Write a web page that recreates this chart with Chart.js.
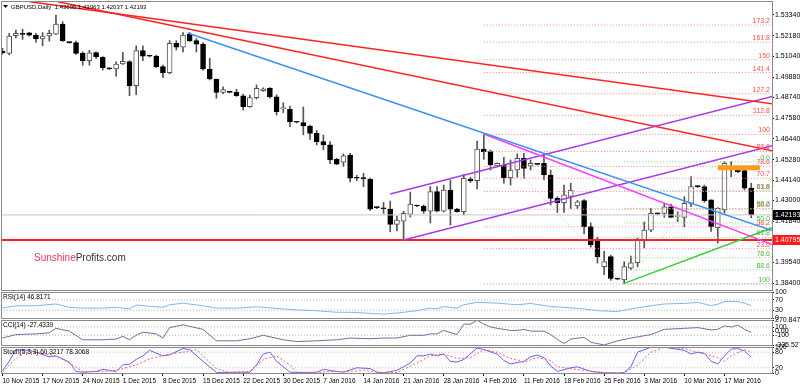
<!DOCTYPE html>
<html>
<head>
<meta charset="utf-8">
<title>GBPUSD Daily</title>
<script src="https://cdn.jsdelivr.net/npm/chart.js@4.4.1/dist/chart.umd.min.js"></script>
<style>
body { margin: 0; background: #fff; }
#wrap { position: relative; width: 800px; height: 387px; overflow: hidden; background: #fff; }
#wrap canvas { position: absolute; left: 0; }
</style>
</head>
<body>
<div id="wrap">
  <canvas id="main" width="800" height="292" style="top:0px"></canvas>
  <canvas id="rsi" width="800" height="33" style="top:289px"></canvas>
  <canvas id="cci" width="800" height="32" style="top:317px"></canvas>
  <canvas id="stoch" width="800" height="43" style="top:344px"></canvas>
</div>
<script>
// date labels (every 6th bar, the feed has sunday bars)
const tickBars = [0, 6, 12, 18, 24, 30, 36, 42, 48, 54, 60, 66, 72, 78, 84, 90, 96, 102, 108];
const tickDates = ["10 Nov 2015", "17 Nov 2015", "24 Nov 2015", "1 Dec 2015", "8 Dec 2015", "15 Dec 2015",
  "22 Dec 2015", "30 Dec 2015", "7 Jan 2016", "14 Jan 2016", "21 Jan 2016", "28 Jan 2016", "4 Feb 2016",
  "11 Feb 2016", "18 Feb 2016", "25 Feb 2016", "3 Mar 2016", "10 Mar 2016", "17 Mar 2016"];

// daily candles, one value per bar
const opens = [1.5132, 1.5120, 1.5219, 1.5228, 1.5234, 1.5221, 1.5200, 1.5217, 1.5227, 1.5284,
  1.5182, 1.5180, 1.5120, 1.5079, 1.5124, 1.5098, 1.5036, 1.5033, 1.5061, 1.5074,
  1.4940, 1.5135, 1.5106, 1.5105, 1.5046, 1.5013, 1.5176, 1.5154, 1.5228, 1.5191,
  1.5171, 1.5033, 1.4977, 1.4903, 1.4905, 1.4903, 1.4884, 1.4823, 1.4873, 1.4912,
  1.4925, 1.4878, 1.4812, 1.4808, 1.4738, 1.4734, 1.4715, 1.4674, 1.4628, 1.4610,
  1.4530, 1.4513, 1.4553, 1.4426, 1.4424, 1.4418, 1.4262, 1.4256, 1.4252, 1.4167,
  1.4185, 1.4223, 1.4270, 1.4269, 1.4241, 1.4349, 1.4241, 1.4358, 1.4252, 1.4237,
  1.4420, 1.4410, 1.4586, 1.4572, 1.4493, 1.4498, 1.4427, 1.4470, 1.4535, 1.4491,
  1.4502, 1.4507, 1.4442, 1.4312, 1.4288, 1.4322, 1.4269, 1.4299, 1.4154, 1.4080,
  1.3931, 1.3987, 1.3862, 1.3857, 1.3922, 1.3953, 1.4080, 1.4135, 1.4226, 1.4228,
  1.4265, 1.4210, 1.4206, 1.4284, 1.4377, 1.4377, 1.4303, 1.4149, 1.4247, 1.4470,
  1.4470, 1.4466, 1.43695];
const highs = [1.5148, 1.5232, 1.5250, 1.5255, 1.5238, 1.5232, 1.5236, 1.5250, 1.5334, 1.5297,
  1.5186, 1.5189, 1.5128, 1.5137, 1.5128, 1.5102, 1.5040, 1.5073, 1.5126, 1.5079,
  1.5162, 1.5162, 1.5110, 1.5110, 1.5055, 1.5191, 1.5191, 1.5236, 1.5236, 1.5202,
  1.5180, 1.5093, 1.4977, 1.4933, 1.4908, 1.4920, 1.4893, 1.4888, 1.4944, 1.4928,
  1.4930, 1.4889, 1.4845, 1.4826, 1.4740, 1.4821, 1.4720, 1.4690, 1.4665, 1.4628,
  1.4535, 1.4560, 1.4563, 1.4440, 1.4452, 1.4425, 1.4265, 1.4289, 1.4297, 1.4213,
  1.4240, 1.4347, 1.4274, 1.4275, 1.4377, 1.4377, 1.4386, 1.4414, 1.4256, 1.4444,
  1.4430, 1.4631, 1.4668, 1.4581, 1.4510, 1.4540, 1.4526, 1.4560, 1.4563, 1.4526,
  1.4505, 1.4554, 1.4470, 1.4321, 1.4386, 1.4397, 1.4300, 1.4305, 1.4175, 1.4096,
  1.4017, 1.3995, 1.3866, 1.3959, 1.3990, 1.4090, 1.4180, 1.4256, 1.4230, 1.4280,
  1.4280, 1.4237, 1.4321, 1.4433, 1.4382, 1.4386, 1.4303, 1.4260, 1.4516, 1.4516,
  1.4475, 1.4476, 1.43963];
const lows = [1.5115, 1.5112, 1.5206, 1.5198, 1.5216, 1.5183, 1.5162, 1.5189, 1.5225, 1.5186,
  1.5176, 1.5114, 1.5054, 1.5054, 1.5090, 1.5027, 1.5030, 1.4993, 1.5058, 1.4884,
  1.4890, 1.5079, 1.5100, 1.5040, 1.4984, 1.5006, 1.5139, 1.5128, 1.5186, 1.5128,
  1.5027, 1.4972, 1.4870, 1.4896, 1.4900, 1.4880, 1.4805, 1.4819, 1.4865, 1.4908,
  1.4870, 1.4776, 1.4790, 1.4711, 1.4732, 1.4666, 1.4640, 1.4610, 1.4582, 1.4505,
  1.4500, 1.4490, 1.4403, 1.4410, 1.4377, 1.4245, 1.4255, 1.4228, 1.4125, 1.4130,
  1.4080, 1.4208, 1.4265, 1.4228, 1.4175, 1.4236, 1.4236, 1.4163, 1.4235, 1.4220,
  1.4400, 1.4364, 1.4530, 1.4470, 1.4490, 1.4397, 1.4386, 1.4430, 1.4425, 1.4470,
  1.4498, 1.4414, 1.4275, 1.4233, 1.4233, 1.4255, 1.4255, 1.4113, 1.4040, 1.3951,
  1.3887, 1.3855, 1.3858, 1.3835, 1.3915, 1.3930, 1.4035, 1.4126, 1.4220, 1.4206,
  1.4206, 1.4182, 1.4153, 1.4266, 1.4372, 1.4290, 1.4127, 1.4063, 1.4229, 1.4433,
  1.4455, 1.4358, 1.42037];
const closes = [1.5124, 1.5217, 1.5232, 1.5226, 1.5221, 1.5200, 1.5217, 1.5232, 1.5284, 1.5191,
  1.5180, 1.5120, 1.5079, 1.5123, 1.5101, 1.5040, 1.5034, 1.5061, 1.5076, 1.4940,
  1.5135, 1.5105, 1.5104, 1.5046, 1.5013, 1.5176, 1.5154, 1.5222, 1.5189, 1.5171,
  1.5033, 1.4977, 1.4903, 1.4918, 1.4903, 1.4884, 1.4823, 1.4873, 1.4925, 1.4923,
  1.4878, 1.4795, 1.4814, 1.4739, 1.4736, 1.4715, 1.4674, 1.4628, 1.4610, 1.4526,
  1.4503, 1.4549, 1.4424, 1.4424, 1.4422, 1.4252, 1.4260, 1.4254, 1.4167, 1.4191,
  1.4229, 1.4280, 1.4269, 1.4241, 1.4349, 1.4241, 1.4358, 1.4251, 1.4237, 1.4423,
  1.4410, 1.4586, 1.4572, 1.4498, 1.4507, 1.4427, 1.4470, 1.4535, 1.4479, 1.4507,
  1.4501, 1.4442, 1.4312, 1.4288, 1.4331, 1.4358, 1.4293, 1.4154, 1.4052, 1.3987,
  1.3959, 1.3866, 1.3862, 1.3931, 1.3953, 1.4080, 1.4135, 1.4228, 1.4225, 1.4265,
  1.4206, 1.4212, 1.4284, 1.4377, 1.4377, 1.4299, 1.4154, 1.4256, 1.4507, 1.4474,
  1.4461, 1.4368, 1.42193];

// price axis labels
const priceTicks = [1.38400, 1.39540, 1.41840, 1.43000, 1.44140, 1.45280, 1.46440, 1.47580,
  1.48740, 1.49880, 1.51040, 1.52180, 1.53340];
const supportPrice = 1.40795;

// trend lines as [bar, price] pairs
const redLineA = [[4.1, 1.5408], [115.3, 1.4838]];
const redLineB = [[8.3, 1.5408], [115.3, 1.4576]];
const blueLine = [[27.7, 1.5234], [115.3, 1.4130]];
const magentaLine = [[72, 1.4671], [115.3, 1.4052]];
const channelTop = [[58, 1.4336], [115.3, 1.4882]];
const channelBottom = [[60, 1.4080], [115.3, 1.4607]];
const greenLine = [[93, 1.3838], [115.3, 1.4150]];
const orangeZone = [[107, 1.4483], [113.3, 1.4483]];

// fibonacci retracements: [bar, price] of the 100 % and 0 % anchors
const redFib100 = [72, 1.4668];
const redFib0 = [93, 1.3835];
const redFibLevels = [0, 23.6, 38.2, 50, 61.8, 70.7, 78.6, 88.6, 100, 112.8, 127.2, 141.4, 150, 161.8, 173.2];
const redFibLabels = ["", "23.6", "38.2", "50.0", "61.8", "70.7", "78.6", "88.6", "100", "112.8", "127.2", "141.4", "150", "161.8", "173.2"];
const greenFib100 = [93, 1.3835];
const greenFib0 = [108, 1.4515];
const greenFibLevels = [0, 23.6, 38.2, 50, 61.8, 78.6, 88.6, 100];
const greenFibLabels = ["0.0", "23.6", "38.2", "50.0", "61.8", "78.6", "88.6", "100"];

// indicators (bar, value) read at visible turning points
const rsiBars = [0, 2, 5, 8, 10, 12, 15, 17, 19, 20, 22, 24, 25, 27, 30, 32, 35, 38, 42, 44, 47, 50, 52, 55, 57, 59,
  61, 62, 64, 65, 66, 68, 69, 71, 74, 77, 79, 82, 84, 87, 89, 92, 94, 97, 99, 102, 104, 106, 107, 108, 109, 110, 111, 112];
const rsiValues = [38, 47, 47, 54, 41, 38, 38, 41, 35, 50, 45, 41, 51, 57, 47, 38, 38, 43, 35, 31, 28, 22, 22, 18, 15, 19,
  25, 28, 38, 35, 44, 38, 51, 60, 57, 51, 56, 44, 41, 35, 28, 25, 35, 47, 54, 56, 60, 48, 53, 63, 64, 63, 57, 46.8171];
const rsiLevels = [30, 70];

const cciBars = [0, 2, 5, 7, 8, 10, 12, 15, 17, 18, 19, 20, 21, 23, 24, 25, 27, 30, 32, 35, 37, 39, 42, 44, 47, 50, 52, 55, 57,
  59, 61, 63, 64, 65, 66, 68, 69, 70, 71, 72, 73, 74, 76, 77, 78, 79, 81, 82, 83, 84, 85, 87, 88, 90, 92, 94, 97, 99, 102,
  104, 106, 107, 108, 109, 110, 111, 112];
const cciValues = [-167, -83, -66, -41, 69, 1, -209, -209, -192, -125, -209, -100, -24, -66, -167, 86, 153, 44, -234, -234,
  -184, -100, -209, -251, -234, -209, -167, -184, -167, -167, -100, -100, -66, -66, 18, -83, 170, 170, 265, 170, 102, 69,
  18, 18, 44, 1, 1, -83, -200, -300, -192, -150, -268, -335, -234, -167, -83, 44, 69, 86, 30, 44, 128, 102, 145, 44, -27.4339];
const cciLevels = [-100, 100];

const stochBars = [0, 1, 2, 4, 5, 7, 8, 10, 11, 12, 14, 15, 16, 17, 18, 19, 20, 21, 22, 24, 25, 27, 28, 30, 32, 35, 37, 38,
  39, 40, 41, 43, 45, 47, 48, 50, 51, 53, 55, 56, 57, 59, 61, 62, 63, 64, 65, 66, 67, 68, 69, 71, 72, 74, 75, 76, 78, 79, 80,
  81, 82, 83, 85, 86, 88, 90, 92, 93, 94, 95, 97, 99, 102, 103, 104, 105, 106, 107, 108, 109, 110, 111, 112];
const stochMain = [8, 45, 90, 87, 80, 62, 66, 42, 6, 3, 6, 14, 10, 6, 31, 34, 52, 66, 87, 66, 70, 94, 90, 45, 2, 3, 3, 31,
  73, 80, 45, 3, 2, 3, 14, 6, 3, 20, 17, 3, 1, 10, 38, 66, 66, 73, 66, 73, 45, 42, 52, 96, 90, 73, 48, 35, 45, 62, 69,
  59, 27, 6, 20, 24, 6, 1, 0, 2, 24, 80, 99, 99, 87, 73, 80, 76, 45, 35, 65, 92, 94, 85, 60.3217];
const signalBars = [0, 1, 3, 5, 8, 10, 12, 15, 17, 20, 22, 25, 27, 29, 30, 32, 34, 37, 39, 41, 43, 44, 47, 49, 52, 54, 57,
  59, 62, 64, 66, 68, 70, 72, 74, 76, 78, 80, 82, 83, 85, 87, 90, 93, 95, 97, 99, 102, 104, 107, 108, 109, 111, 112];
const stochSignal = [2, 31, 80, 80, 66, 38, 6, 6, 10, 31, 55, 73, 80, 90, 66, 17, 2, 6, 52, 66, 31, 3, 1, 6, 6, 10, 1,
  2, 38, 66, 73, 56, 59, 90, 80, 56, 42, 59, 48, 24, 17, 10, 1, 0, 31, 80, 99, 94, 80, 59, 45, 66, 90, 78.3068];
const stochLevels = [20, 80];

// ---------------------------------------------------------------
Chart.defaults.font.family = '"Liberation Sans", Arial, sans-serif';
Chart.defaults.font.size = 7;
Chart.defaults.color = '#000';
Chart.defaults.animation = false;
Chart.defaults.events = [];
Chart.defaults.plugins.legend.display = false;
Chart.defaults.plugins.tooltip.enabled = false;

const xMin = -0.224, xMax = 115.11;
const axisWidth = 28;
const last = closes.length - 1;
const bars = closes.map((c, i) => i);

function pts(list) {
  return list.map(p => ({ x: p[0], y: p[1] }));
}

function line(points, color, width, dash, order) {
  return {
    type: 'line', data: pts(points), borderColor: color, borderWidth: width,
    borderDash: dash || [], pointRadius: 0, fill: false, tension: 0, order: order
  };
}

function fibPrice(at100, at0, level) {
  return at0[1] + (at100[1] - at0[1]) * level / 100;
}

function noPad(s) {
  s.paddingTop = 0; s.paddingBottom = 0; s.paddingLeft = 0; s.paddingRight = 0;
}

function xAxis(show) {
  if (!show) {
    return { type: 'linear', min: xMin, max: xMax, offset: false, display: false };
  }
  return {
    type: 'linear', min: xMin, max: xMax, offset: false,
    afterBuildTicks: s => { s.ticks = tickBars.map(v => ({ value: v })); },
    afterFit: s => { s.height = 14; noPad(s); },
    ticks: {
      autoSkip: false, maxRotation: 0, align: 'start', padding: 1, font: { size: 6.5 },
      callback: v => tickDates[tickBars.indexOf(v)]
    },
    grid: { drawOnChartArea: false, tickLength: 3, color: '#000', tickColor: '#000' },
    border: { display: false }
  };
}

function yAxis(min, max, ticks, labels) {
  return {
    type: 'linear', position: 'right', min: min, max: max,
    afterBuildTicks: s => { s.ticks = ticks.map(v => ({ value: v })); },
    afterFit: s => { s.width = axisWidth; noPad(s); },
    ticks: { autoSkip: false, padding: 1, callback: v => labels[ticks.indexOf(v)] },
    grid: { drawOnChartArea: false, tickLength: 2, color: '#000', tickColor: '#000' },
    border: { display: false }
  };
}

function frame(chart) {
  const { ctx, chartArea: a } = chart;
  ctx.save();
  ctx.strokeStyle = '#8a8a8a';
  ctx.lineWidth = 1;
  ctx.strokeRect(a.left + 0.5, a.top + 0.5, a.right - a.left, a.bottom - a.top);
  ctx.restore();
}

// ---------------- main price panel ----------------
const fibSets = [];
redFibLevels.forEach(lv => {
  const p = fibPrice(redFib100, redFib0, lv);
  fibSets.push(line([[redFib100[0], p], [xMax, p]], '#ff8a8a', 1, [1, 2], 5));
});
greenFibLevels.forEach(lv => {
  const p = fibPrice(greenFib100, greenFib0, lv);
  fibSets.push(line([[greenFib100[0], p], [xMax, p]], '#80d080', 1, [1, 2], 5));
});

const mainOverlay = {
  id: 'mainOverlay',
  afterDatasetsDraw(chart) {
    const { ctx, chartArea: a, scales: { y } } = chart;
    ctx.save();
    ctx.font = '7px "Liberation Sans", Arial';
    ctx.textAlign = 'right';
    ctx.textBaseline = 'bottom';
    ctx.fillStyle = '#ff4d4d';
    redFibLevels.forEach((lv, k) => {
      if (redFibLabels[k]) ctx.fillText(redFibLabels[k], a.right - 2, y.getPixelForValue(fibPrice(redFib100, redFib0, lv)) - 0.5);
    });
    ctx.fillStyle = '#4cbb4c';
    greenFibLevels.forEach((lv, k) => {
      ctx.fillText(greenFibLabels[k], a.right - 2, y.getPixelForValue(fibPrice(greenFib100, greenFib0, lv)) - 0.5);
    });

    // watermark
    ctx.textAlign = 'left';
    ctx.textBaseline = 'alphabetic';
    ctx.font = '10px "Liberation Sans", Arial';
    ctx.fillStyle = '#e8395c';
    ctx.fillText('Sunshine', 34, 261);
    const w = ctx.measureText('Sunshine').width;
    ctx.fillStyle = '#333';
    ctx.fillText('Profits.com', 34 + w, 261);

    // symbol line
    ctx.fillStyle = '#000';
    ctx.beginPath();
    ctx.moveTo(3, 5); ctx.lineTo(8, 5); ctx.lineTo(5.5, 8); ctx.closePath();
    ctx.fill();
    ctx.font = '6px "Liberation Sans", Arial';
    ctx.fillText('GBPUSD,Daily  ' + [opens[last], highs[last], lows[last], closes[last]].map(v => v.toFixed(5)).join(' '), 11, 9);
    ctx.restore();
  },
  afterDraw(chart) {
    frame(chart);
    const { ctx, chartArea: a, scales: { y } } = chart;
    ctx.save();
    ctx.font = '7px "Liberation Sans", Arial';
    ctx.textAlign = 'left';
    ctx.textBaseline = 'middle';
    [[closes[last], '#000'], [supportPrice, '#ff1a1a']].forEach(([p, c]) => {
      const py = Math.round(y.getPixelForValue(p));
      ctx.fillStyle = c;
      ctx.fillRect(a.right + 1, py - 5, chart.width - a.right - 1, 10);
      ctx.fillStyle = '#fff';
      ctx.fillText(p.toFixed(5), a.right + 3, py);
    });
    ctx.restore();
  }
};

new Chart(document.getElementById('main'), {
  type: 'bar',
  data: {
    datasets: [
      {
        type: 'bar', data: bars.map(i => ({ x: i, y: [lows[i], highs[i]] })),
        backgroundColor: '#555', barThickness: 1, grouped: false, order: 20
      },
      {
        type: 'bar', data: bars.map(i => ({ x: i, y: [opens[i], closes[i]] })),
        backgroundColor: bars.map(i => closes[i] > opens[i] ? '#fff' : '#000'),
        borderColor: bars.map(i => closes[i] > opens[i] ? '#555' : '#000'),
        borderWidth: 1, borderSkipped: false, barThickness: 5, minBarLength: 1, grouped: false, order: 19
      },
      ...fibSets,
      line([redFib100, redFib0], '#c4c4c4', 1, [1, 2], 6),
      line([greenFib100, greenFib0], '#c4c4c4', 1, [1, 2], 6),
      line([[xMin, closes[last]], [xMax, closes[last]]], '#c8c8c8', 1, [], 7),
      line([[xMin, supportPrice], [xMax, supportPrice]], '#ff2020', 2, [], 2),
      line(orangeZone, '#ff9c1c', 5, [], 3),
      line(redLineA, '#ff2424', 1.5, [], 1),
      line(redLineB, '#ff2424', 1.5, [], 1),
      line(blueLine, '#3a8ff0', 1.5, [], 1),
      line(magentaLine, '#ff3cff', 1.5, [], 1),
      line(channelTop, '#a43be8', 1.5, [], 1),
      line(channelBottom, '#a43be8', 1.5, [], 1),
      line(greenLine, '#3ccc3c', 1.5, [], 1)
    ]
  },
  options: {
    responsive: false,
    layout: { padding: { left: 1, top: 1, right: 0, bottom: 2 } },
    scales: {
      x: xAxis(false),
      y: yAxis(1.3801, 1.5412, priceTicks, priceTicks.map(v => v.toFixed(5)))
    }
  },
  plugins: [mainOverlay]
});

// ---------------- indicator panels ----------------
function panel(id, title, bottom, yCfg, datasets, showDates) {
  new Chart(document.getElementById(id), {
    type: 'line',
    data: { datasets: datasets },
    options: {
      responsive: false,
      layout: { padding: { left: 1, top: 3, right: 0, bottom: bottom } },
      scales: { x: xAxis(showDates), y: yCfg }
    },
    plugins: [{
      id: 'panel-' + id,
      afterDraw(chart) {
        frame(chart);
        const { ctx, chartArea: a } = chart;
        ctx.save();
        ctx.font = '6.5px "Liberation Sans", Arial';
        ctx.fillStyle = '#000';
        ctx.textBaseline = 'middle';
        ctx.fillText(title, a.left + 2, a.top + 5);
        ctx.restore();
      }
    }]
  });
}

function series(xs, ys, color, dash) {
  return {
    data: xs.map((x, k) => ({ x: x, y: ys[k] })), borderColor: color, borderWidth: 1,
    borderDash: dash || [], pointRadius: 0, fill: false, tension: 0, order: 1
  };
}

function levels(list) {
  return list.map(v => line([[xMin, v], [xMax, v]], '#b8b8b8', 1, [1, 2], 5));
}

panel('rsi', 'RSI(14) 46.8171', 4,
  yAxis(0, 100, [0, 30, 70, 100], ['0', '30', '70', '100']),
  [...levels(rsiLevels), series(rsiBars, rsiValues, '#80b6ee')], false);

panel('cci', 'CCI(14) -27.4339', 4,
  yAxis(-335.5278, 270.8475, [-335.5278, -100, 0, 100, 270.8475], ['-335.5278', '-100', '0.00', '100', '270.8475']),
  [...levels(cciLevels), series(cciBars, cciValues, '#70709c')], false);

panel('stoch', 'Stoch(5,3,3) 60.3217 78.3068', 0,
  yAxis(0, 100, [0, 20, 80, 100], ['0', '20', '80', '100']),
  [...levels(stochLevels), series(signalBars, stochSignal, '#ff6060', [2, 2]), series(stochBars, stochMain, '#6262f2')], true);
</script>
</body>
</html>
